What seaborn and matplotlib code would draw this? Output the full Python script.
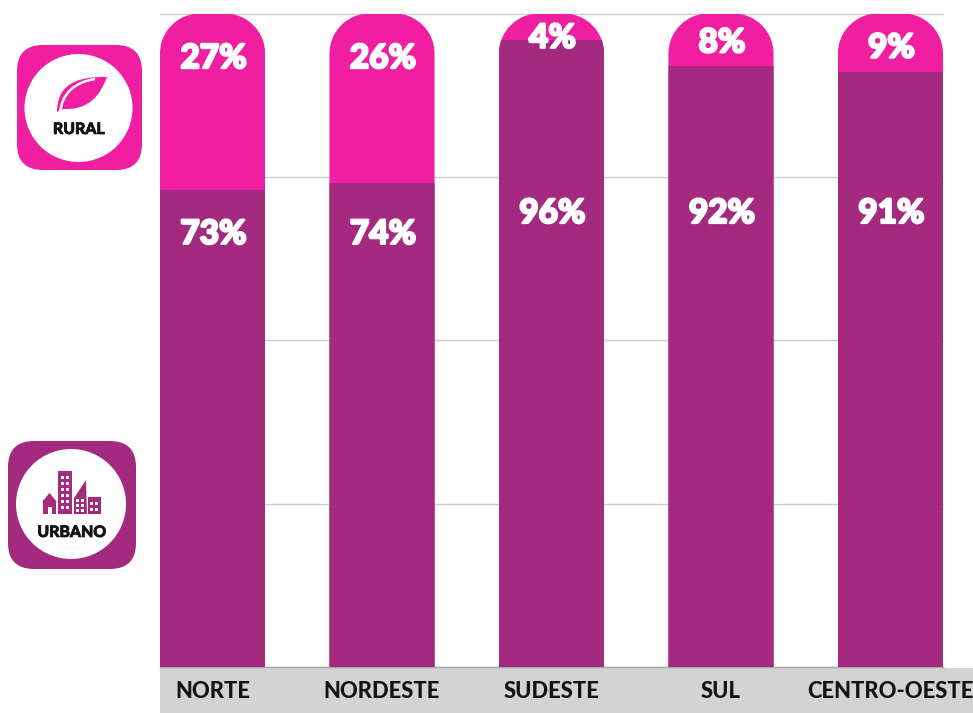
import matplotlib
matplotlib.use("Agg")
import matplotlib.pyplot as plt
import matplotlib.patheffects as pe
from matplotlib.patches import Circle, FancyBboxPatch, PathPatch, Polygon, Rectangle
from matplotlib.path import Path
import pandas as pd
import seaborn as sns

regions = ["NORTE", "NORDESTE", "SUDESTE", "SUL", "CENTRO-OESTE"]
urban = [73, 74, 96, 92, 91]
rural = [27, 26, 4, 8, 9]

URBAN_COLOR = "#a32a7f"
RURAL_COLOR = "#f01fa2"
GRID_COLOR = "#cccccc"
STRIP_COLOR = "#d3d3d3"

sns.set_theme(style="white")
plt.rcParams["font.family"] = ["Lato", "DejaVu Sans"]

W, H = 973, 713
fig = plt.figure(figsize=(W / 100, H / 100), dpi=100)
fig.patch.set_facecolor("white")

# Full-canvas layer measured in pixels, for the footer strip and the two icons
canvas = fig.add_axes([0, 0, 1, 1], zorder=0)
canvas.set_xlim(0, W)
canvas.set_ylim(H, 0)
canvas.axis("off")
canvas.add_patch(Rectangle((160, 668), W - 160, H - 668, fc=STRIP_COLOR, ec="none"))

ax = fig.add_axes([160 / W, 1 - 667 / H, (943 - 160) / W, (667 - 13.5) / H], zorder=1)
ax.patch.set_alpha(0)

df = pd.DataFrame({"region": regions, "urbano": urban, "rural": rural})
df["total"] = df["urbano"] + df["rural"]

bar_width = 0.62
sns.barplot(data=df, x="region", y="total", color=RURAL_COLOR, width=bar_width,
            saturation=1, linewidth=0, ax=ax, zorder=3)
rural_bars = list(ax.patches)
sns.barplot(data=df, x="region", y="urbano", color=URBAN_COLOR, width=bar_width,
            saturation=1, linewidth=0, ax=ax, zorder=4)
urban_bars = list(ax.patches)[len(rural_bars):]

ax.set_xlim(-bar_width / 2, len(regions) - 1 + bar_width / 2)
ax.set_ylim(0, 100)
ax.set_yticks([0, 25, 50, 75, 100])
ax.tick_params(axis="y", left=False, labelleft=False)
ax.yaxis.grid(True, color=GRID_COLOR, lw=1, clip_on=False)
ax.xaxis.grid(False)
ax.set_axisbelow(True)
ax.set_xlabel("")
ax.set_ylabel("")
for name in ["top", "left", "right"]:
    ax.spines[name].set_visible(False)
ax.spines["bottom"].set_color("#a8a8a8")
ax.spines["bottom"].set_linewidth(1)
ax.tick_params(axis="x", length=0, pad=10)
for label in ax.get_xticklabels():
    label.set_fontsize(15.8)
    label.set_fontweight("black")
    label.set_color("#141414")

# Round the top corners of each column with circular arcs, clipping both segments
x_unit_px = (943 - 160) / (len(regions) - 1 + bar_width)
y_unit_px = (667 - 13.5) / 100
rx = 40 / x_unit_px
ry = 40 / y_unit_px
kappa = 0.5523
for rural_bar, urban_bar in zip(rural_bars, urban_bars):
    x0 = rural_bar.get_x()
    x1 = x0 + rural_bar.get_width()
    top = rural_bar.get_height()
    outline = Path(
        [(x0, 0), (x0, top - ry),
         (x0, top - ry + kappa * ry), (x0 + rx - kappa * rx, top), (x0 + rx, top),
         (x1 - rx, top),
         (x1 - rx + kappa * rx, top), (x1, top - ry + kappa * ry), (x1, top - ry),
         (x1, 0), (x0, 0)],
        [Path.MOVETO, Path.LINETO,
         Path.CURVE4, Path.CURVE4, Path.CURVE4,
         Path.LINETO,
         Path.CURVE4, Path.CURVE4, Path.CURVE4,
         Path.LINETO, Path.CLOSEPOLY],
    )
    clip = PathPatch(outline, transform=ax.transData, fc="none", ec="none")
    rural_bar.set_clip_path(clip)
    urban_bar.set_clip_path(clip)

# Value labels, thickened with a white outline
label_style = dict(ha="center", va="center", color="white", fontsize=24,
                   fontweight="black", zorder=6,
                   path_effects=[pe.withStroke(linewidth=1.6, foreground="white")])
urban_label_y = [66.2, 66.2, 69.4, 69.4, 69.4]
rural_label_y = [93.1, 93.1, 96.2, 95.5, 94.7]
for i, region in enumerate(regions):
    ax.text(i + 0.006, urban_label_y[i], f"{urban[i]}%", **label_style)
    ax.text(i + 0.006, rural_label_y[i], f"{rural[i]}%", **label_style)


def icon_frame(x, y, size, center, r, color):
    canvas.add_patch(FancyBboxPatch((x, y), size, size,
                                    boxstyle="round,pad=0,rounding_size=26",
                                    fc=color, ec="none"))
    canvas.add_patch(Circle(center, r, fc="white", ec="none"))


icon_text = dict(ha="center", va="center", fontsize=11.4, fontweight="black",
                 color="#141414",
                 path_effects=[pe.withStroke(linewidth=0.5, foreground="#141414")])

# Rural icon: a leaf with a pale vein
icon_frame(17, 45, 125, (78.5, 108), 54, RURAL_COLOR)
leaf = Path(
    [(57, 112), (57, 88), (72, 76), (107, 77), (100, 95), (90, 110), (63, 109), (57, 112)],
    [Path.MOVETO, Path.CURVE4, Path.CURVE4, Path.CURVE4, Path.CURVE4, Path.CURVE4, Path.CURVE4, Path.CLOSEPOLY],
)
canvas.add_patch(PathPatch(leaf, fc=RURAL_COLOR, ec="none"))
vein = Path([(60, 113), (62, 93), (75, 82), (95, 79)],
            [Path.MOVETO, Path.CURVE4, Path.CURVE4, Path.CURVE4])
canvas.add_patch(PathPatch(vein, fc="none", ec="white", lw=1.8))
canvas.text(79, 129, "RURAL", **icon_text)

# Urban icon: a small skyline
icon_frame(8, 441, 128, (71, 504), 55, URBAN_COLOR)
canvas.add_patch(Rectangle((43, 501), 13, 13, fc=URBAN_COLOR, ec="none"))
canvas.add_patch(Polygon([(42, 502), (49.5, 493), (57, 502)], fc=URBAN_COLOR, ec="none"))
canvas.add_patch(Rectangle((47.5, 507), 4, 7, fc="white", ec="none"))
canvas.add_patch(Rectangle((58, 471), 14, 43, fc=URBAN_COLOR, ec="none"))
for wx in (60.5, 66):
    for wy in (476, 482, 488, 494, 500, 506):
        canvas.add_patch(Rectangle((wx, wy), 3, 3.2, fc="white", ec="none"))
canvas.add_patch(Polygon([(74, 514), (74, 498), (86, 480), (87, 514)], fc=URBAN_COLOR, ec="none"))
for wx in (76, 81):
    for wy in (499, 504, 509):
        canvas.add_patch(Rectangle((wx, wy), 3.2, 3, fc="white", ec="none"))
canvas.add_patch(Rectangle((88, 497), 13, 17, fc=URBAN_COLOR, ec="none"))
for wx in (90, 95):
    for wy in (502, 508):
        canvas.add_patch(Rectangle((wx, wy), 3.4, 3, fc="white", ec="none"))
canvas.text(72, 532, "URBANO", **icon_text)

fig.savefig("out.png", dpi=100, facecolor="white")
